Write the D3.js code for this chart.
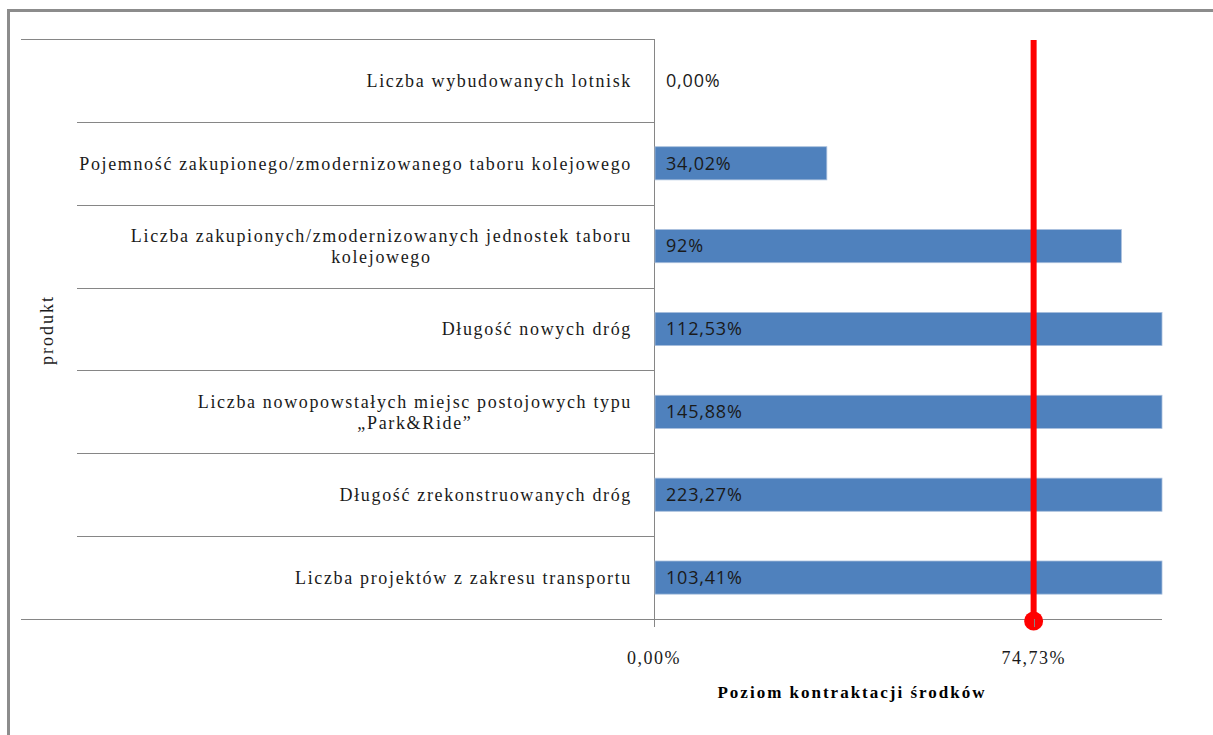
<!DOCTYPE html>
<html>
<head>
<meta charset="utf-8">
<script src="https://cdn.jsdelivr.net/npm/d3@7"></script>
<style>
  body { margin: 0; background: #fff; }
  svg { display: block; }
</style>
</head>
<body>
<div id="chart"></div>
<script>
// dane
const categories = [
    "Liczba wybudowanych lotnisk",
    "Pojemność zakupionego/zmodernizowanego taboru kolejowego",
    "Liczba zakupionych/zmodernizowanych jednostek taboru\nkolejowego",
    "Długość nowych dróg",
    "Liczba nowopowstałych miejsc postojowych typu\n„Park&Ride”",
    "Długość zrekonstruowanych dróg",
    "Liczba projektów z zakresu transportu"
];
const values = [0, 34.02, 92, 112.53, 145.88, 223.27, 103.41];
const valueLabels = ["0,00%", "34,02%", "92%", "112,53%", "145,88%", "223,27%", "103,41%"];
const contractLevel = 74.73;
const tickValues = [0, 74.73];
const tickLabels = ["0,00%", "74,73%"];

const
    width = 1213,
    height = 735,
    plot = { left: 654, right: 1162, top: 39, bottom: 619 },
    svg = d3.select("#chart").append("svg").attr("width", width).attr("height", height);

const colors = {
    bar: "#4F81BD",
    line: "#FF0000",
    axis: "#868686",
    frame: "#8c8c8c",
    text: "#1a1a1a"
};

const serif = "'Liberation Serif', 'DejaVu Serif', serif";
const sans = "'Open Sans', 'Liberation Sans', sans-serif";

var x = d3.scaleLinear()
    .domain([0, 100])
    .range([plot.left, plot.right])
    .clamp(true);

var y = d3.scaleBand()
    .domain(categories)
    .range([plot.top, plot.bottom])
    .paddingInner(0.6)
    .paddingOuter(0.3);

// ramka
svg.append("path")
    .attr("d", `M8.5,${height} L8.5,10.5 L${width},10.5`)
    .attr("fill", "none")
    .attr("stroke", colors.frame)
    .attr("stroke-width", 3);

// linie kategorii
const step = y.step();
const bounds = d3.range(categories.length + 1).map(i => plot.top + i * step);

svg.selectAll(".cat-line")
    .data(bounds)
    .enter().append("line")
    .attr("class", "cat-line")
    .attr("x1", (d, i) => (i === 0 || i === categories.length) ? 21 : 77)
    .attr("x2", (d, i) => i === categories.length ? plot.right : plot.left)
    .attr("y1", d => Math.round(d) + 0.5)
    .attr("y2", d => Math.round(d) + 0.5)
    .attr("stroke", colors.axis)
    .attr("stroke-width", 1);

// os pionowa
svg.append("line")
    .attr("x1", plot.left + 0.5).attr("x2", plot.left + 0.5)
    .attr("y1", plot.top).attr("y2", plot.bottom + 8)
    .attr("stroke", colors.axis);

// slupki
svg.selectAll(".bar")
    .data(values)
    .enter().append("rect")
    .attr("class", "bar")
    .attr("x", x(0) + 1)
    .attr("y", (d, i) => y(categories[i]))
    .attr("width", d => Math.max(0, x(d) - x(0) - 1))
    .attr("height", y.bandwidth())
    .attr("fill", colors.bar)
    .attr("stroke", d => d > 0 ? "#a9bfdd" : "none")
    .attr("stroke-width", 0.8);

svg.selectAll(".bar-label")
    .data(valueLabels)
    .enter().append("text")
    .attr("class", "bar-label")
    .attr("x", plot.left + 12)
    .attr("y", (d, i) => y(categories[i]) + y.bandwidth() / 2)
    .attr("dy", "0.35em")
    .attr("fill", colors.text)
    .style("font-family", sans)
    .style("font-size", "18px")
    .style("letter-spacing", "0.8px")
    .text(d => d);

// etykiety kategorii
const labelRight = plot.left - 22;
categories.forEach((c, i) => {
    const lines = c.split("\n");
    const cy = y(c) + y.bandwidth() / 2;
    const g = svg.append("text")
        .attr("fill", colors.text)
        .attr("text-anchor", "middle")
        .style("font-family", serif)
        .style("font-size", "18px")
        .style("letter-spacing", "1.65px");
    const lh = 21;
    const spans = lines.map((l, j) => g.append("tspan")
        .attr("y", cy + (j - (lines.length - 1) / 2) * lh)
        .attr("dy", "0.35em")
        .text(l));
    const maxW = d3.max(spans, s => s.node().getComputedTextLength());
    spans.forEach(s => s.attr("x", labelRight - maxW / 2));
});

// linia poziomu kontraktacji
svg.append("line")
    .attr("x1", x(contractLevel)).attr("x2", x(contractLevel))
    .attr("y1", plot.top + 1).attr("y2", plot.bottom)
    .attr("stroke", colors.line)
    .attr("stroke-width", 6);

svg.append("circle")
    .attr("cx", x(contractLevel))
    .attr("cy", plot.bottom + 2)
    .attr("r", 9.5)
    .attr("fill", colors.line);

// os pozioma
svg.selectAll(".x-tick")
    .data(tickValues)
    .enter().append("line")
    .attr("class", "x-tick")
    .attr("x1", d => Math.round(x(d)) + 0.5)
    .attr("x2", d => Math.round(x(d)) + 0.5)
    .attr("y1", plot.bottom)
    .attr("y2", plot.bottom + 8)
    .attr("stroke", colors.axis);

svg.selectAll(".x-label")
    .data(tickValues)
    .enter().append("text")
    .attr("class", "x-label")
    .attr("x", d => x(d))
    .attr("y", 658)
    .attr("dy", "0.35em")
    .attr("text-anchor", "middle")
    .attr("fill", colors.text)
    .style("font-family", serif)
    .style("font-size", "18px")
    .style("letter-spacing", "1.5px")
    .text((d, i) => tickLabels[i]);

// tytuly osi
svg.append("text")
    .attr("x", 852)
    .attr("y", 692)
    .attr("dy", "0.35em")
    .attr("text-anchor", "middle")
    .attr("fill", "#000")
    .style("font-family", serif)
    .style("font-size", "17px")
    .style("font-weight", "bold")
    .style("letter-spacing", "2px")
    .text("Poziom kontraktacji środków");

svg.append("text")
    .attr("transform", "translate(47,330) rotate(-90)")
    .attr("dy", "0.35em")
    .attr("text-anchor", "middle")
    .attr("fill", colors.text)
    .style("font-family", serif)
    .style("font-size", "18px")
    .style("letter-spacing", "2px")
    .text("produkt");
</script>
</body>
</html>
